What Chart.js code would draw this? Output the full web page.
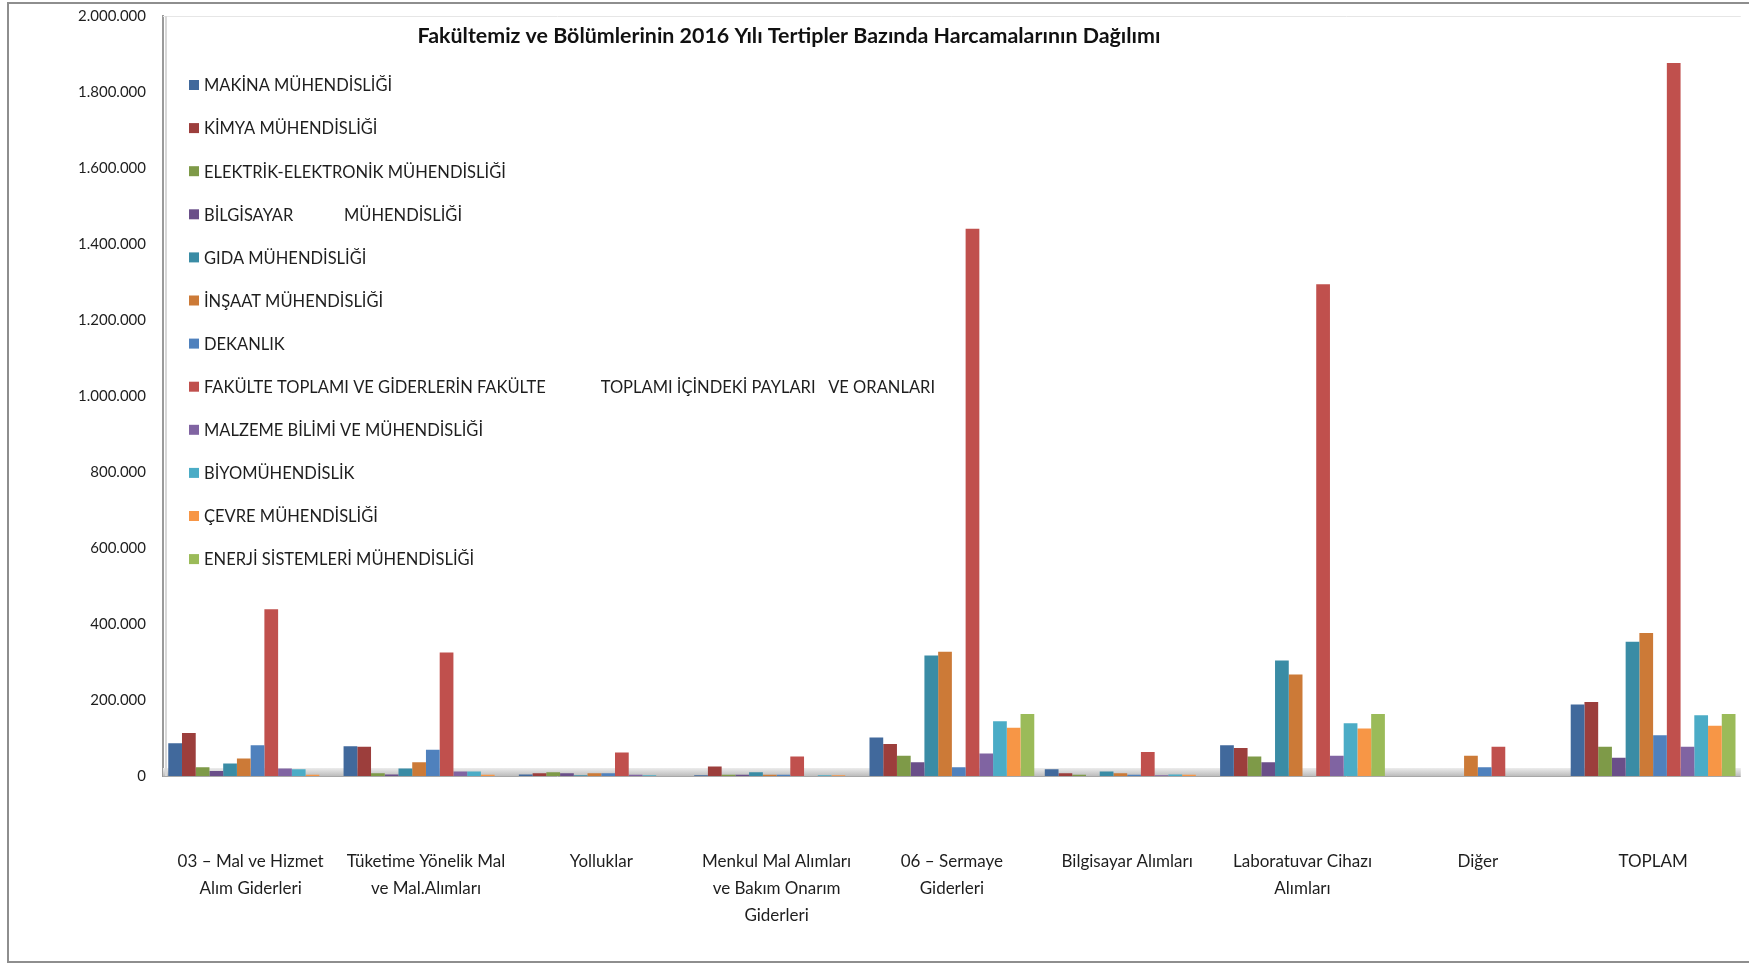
<!DOCTYPE html>
<html lang="tr">
<head>
<meta charset="utf-8">
<title>Fakültemiz ve Bölümlerinin 2016 Yılı Harcamaları</title>
<script src="https://cdn.jsdelivr.net/npm/chart.js@4.4.1/dist/chart.umd.min.js"></script>
<style>
  html, body { margin: 0; padding: 0; background: #fff; overflow: hidden; }
  body { width: 1749px; height: 965px; position: relative; }
  #frame { position: absolute; left: 7px; top: 2px; width: 1800px; height: 957px; border: 2px solid #8e8e8e; }
  #chart { position: absolute; left: 0; top: 0; }
</style>
</head>
<body>
<div id="frame"></div>
<canvas id="chart" width="1760" height="965"></canvas>
<script>
// =====================
// Data
// =====================
const categories = [
  ['03 – Mal ve Hizmet', 'Alım Giderleri'],
  ['Tüketime Yönelik Mal', 've Mal.Alımları'],
  'Yolluklar',
  ['Menkul Mal Alımları', 've Bakım Onarım', 'Giderleri'],
  ['06 – Sermaye', 'Giderleri'],
  'Bilgisayar Alımları',
  ['Laboratuvar Cihazı', 'Alımları'],
  'Diğer',
  'TOPLAM'
];

const yTicks = [0, 200000, 400000, 600000, 800000, 1000000, 1200000, 1400000, 1600000, 1800000, 2000000];

const makina     = [86000, 78000, 4000, 2000, 101000, 18000, 81000, 0, 188000];
const kimya      = [113000, 77000, 7000, 25000, 84000, 7000, 74000, 0, 195000];
const elektrik   = [23000, 7000, 10000, 3000, 53000, 3000, 51000, 0, 77000];
const bilgisayar = [13000, 4000, 7000, 3000, 36000, 0, 36000, 0, 48000];
const gida       = [33000, 20000, 2000, 10000, 317000, 12000, 304000, 0, 353000];
const insaat     = [46000, 36000, 7000, 3000, 327000, 7000, 267000, 53000, 376000];
const dekanlik   = [81000, 69000, 7000, 3000, 23000, 3000, 0, 23000, 107000];
const fakulte    = [439000, 325000, 62000, 51000, 1440000, 63000, 1294000, 77000, 1876000];
const malzeme    = [20000, 12000, 3000, 0, 59000, 2000, 53000, 0, 77000];
const biyo       = [18000, 12000, 2000, 2000, 144000, 4000, 139000, 0, 160000];
const cevre      = [3000, 3000, 0, 2000, 127000, 3000, 125000, 0, 132000];
const enerji     = [0, 0, 0, 0, 163000, 0, 163000, 0, 163000];

const seriesNames = [
  'MAKİNA MÜHENDİSLİĞİ',
  'KİMYA MÜHENDİSLİĞİ',
  'ELEKTRİK-ELEKTRONİK MÜHENDİSLİĞİ',
  'BİLGİSAYAR            MÜHENDİSLİĞİ',
  'GIDA MÜHENDİSLİĞİ',
  'İNŞAAT MÜHENDİSLİĞİ',
  'DEKANLIK',
  'FAKÜLTE TOPLAMI VE GİDERLERİN FAKÜLTE             TOPLAMI İÇİNDEKİ PAYLARI   VE ORANLARI',
  'MALZEME BİLİMİ VE MÜHENDİSLİĞİ',
  'BİYOMÜHENDİSLİK',
  'ÇEVRE MÜHENDİSLİĞİ',
  'ENERJİ SİSTEMLERİ MÜHENDİSLİĞİ'
];
const seriesValues = [makina, kimya, elektrik, bilgisayar, gida, insaat, dekanlik, fakulte, malzeme, biyo, cevre, enerji];
const seriesColors = ['#41699c', '#9c3e3c', '#7e9a48', '#6a4f89', '#3a8ca5', '#cc7a37',
                      '#4f81bd', '#c0504d', '#8064a2', '#4bacc6', '#f79646', '#9bbb59'];

const FONT = 'Lato, "Open Sans", sans-serif';
const TEXT = '#1e1e1e';

function fmtTR(v){ return String(v).replace(/\B(?=(\d{3})+(?!\d))/g, '.'); }

// =====================
// Plugins: floor, title, legend
// =====================
const decor = {
  id: 'decor',
  beforeDatasetsDraw(chart){
    const {ctx, chartArea:a} = chart;
    ctx.save();
    // back wall top edge
    ctx.strokeStyle = '#e6e6e6';
    ctx.lineWidth = 1;
    ctx.beginPath(); ctx.moveTo(a.left, a.top + 0.5); ctx.lineTo(a.right, a.top + 0.5); ctx.stroke();
    // floor band
    const g = ctx.createLinearGradient(0, a.bottom - 8, 0, a.bottom);
    g.addColorStop(0, '#ececec');
    g.addColorStop(1, '#bdbdbd');
    ctx.fillStyle = g;
    ctx.fillRect(a.left, a.bottom - 8, a.right - a.left, 8);
    ctx.strokeStyle = '#a8a8a8';
    ctx.beginPath(); ctx.moveTo(a.left, a.bottom + 0.5); ctx.lineTo(a.right, a.bottom + 0.5); ctx.stroke();
    // axis shadow
    ctx.strokeStyle = '#d8d8d8';
    ctx.lineWidth = 2;
    ctx.beginPath(); ctx.moveTo(a.left + 3, a.top); ctx.lineTo(a.left + 3, a.bottom); ctx.stroke();
    ctx.restore();
  },
  afterDraw(chart){
    const {ctx, chartArea:a} = chart;
    ctx.save();
    // title
    ctx.fillStyle = '#111';
    ctx.font = 'bold 21.4px ' + FONT;
    ctx.textAlign = 'center';
    ctx.textBaseline = 'middle';
    ctx.fillText('Fakültemiz ve Bölümlerinin 2016 Yılı Tertipler Bazında Harcamalarının Dağılımı', 789, 36);
    // legend
    ctx.font = '16.5px ' + FONT;
    ctx.textAlign = 'left';
    chart.data.datasets.forEach((ds, i) => {
      const y = 85 + i * 43.1;
      ctx.fillStyle = ds.backgroundColor;
      ctx.fillRect(a.left + 26, y - 5, 10, 10);
      ctx.fillStyle = TEXT;
      ctx.fillText(ds.label, a.left + 41, y + 1);
    });
    ctx.restore();
  }
};

// =====================
// Chart
// =====================
const ctx = document.getElementById('chart').getContext('2d');
const chart = new Chart(ctx, {
  type: 'bar',
  data: {
    labels: categories,
    datasets: seriesNames.map((name, i) => ({
      label: name,
      data: seriesValues[i],
      backgroundColor: seriesColors[i],
      borderWidth: 0,
      barPercentage: 1.0,
      categoryPercentage: 0.94
    }))
  },
  options: {
    responsive: false,
    animation: false,
    devicePixelRatio: 1,
    layout: { padding: { left: 0, right: 4, top: 16, bottom: 0 } },
    plugins: { legend: { display: false }, title: { display: false }, tooltip: { enabled: false } },
    scales: {
      x: {
        grid: { display: false, drawTicks: false },
        border: { display: false },
        ticks: { color: TEXT, font: { family: FONT, size: 17, lineHeight: 1.58 }, padding: 72, maxRotation: 0, autoSkip: false },
        afterFit(scale){ scale.height = 189; }
      },
      y: {
        min: 0, max: 2000000,
        afterBuildTicks(scale){ scale.ticks = yTicks.map(v => ({value: v})); },
        grid: { display: false, drawTicks: false },
        border: { display: true, color: '#9a9a9a', width: 2 },
        ticks: { color: TEXT, font: { family: FONT, size: 15 }, padding: 17, callback: v => fmtTR(v) },
        afterFit(scale){
          scale.width = 163;
          scale.paddingTop = 0;
          scale.paddingBottom = 0;
        }
      }
    }
  },
  plugins: [decor]
});
</script>
</body>
</html>
